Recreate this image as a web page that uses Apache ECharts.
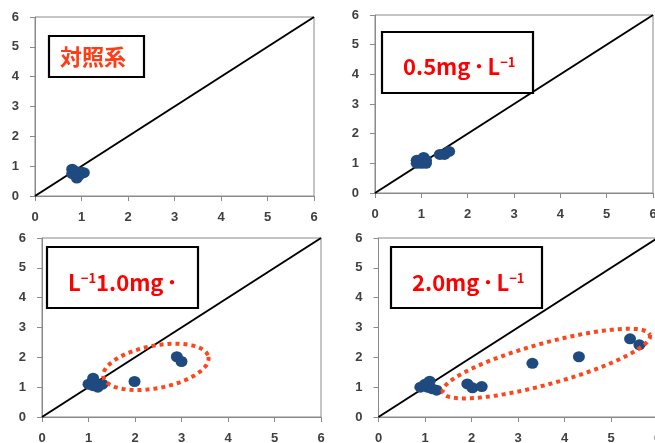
<!DOCTYPE html>
<html>
<head>
<meta charset="utf-8">
<script src="https://cdn.jsdelivr.net/npm/echarts@6/dist/echarts.min.js"></script>
<style>
  html, body { margin: 0; padding: 0; background: #ffffff; }
  #chart { width: 655px; height: 443px; }
</style>
</head>
<body>
<div id="chart"></div>
<script>
// Axis ticks shared by every panel (both axes run 0..6)
const axisTicks = [0, 1, 2, 3, 4, 5, 6];

// Reference 1:1 line
const identityLine = [[0, 0], [6, 6]];

// Measured points for each treatment
const controlPts = [[0.80, 0.90], [0.80, 0.75], [0.88, 0.82], [0.90, 0.60], [0.95, 0.70], [1.00, 0.80], [1.05, 0.78]];
const dose05Pts = [[0.90, 1.00], [0.90, 1.10], [1.00, 1.00], [1.00, 1.10], [1.05, 1.20], [1.10, 1.00], [1.10, 1.10], [1.40, 1.30], [1.50, 1.30], [1.60, 1.40]];
const dose10Pts = [[1.00, 1.10], [1.10, 1.30], [1.10, 1.05], [1.15, 1.10], [1.20, 1.00], [1.30, 1.10], [1.99, 1.19], [2.90, 2.02], [3.00, 1.86]];
const dose20Pts = [[0.90, 1.00], [1.00, 1.10], [1.05, 1.00], [1.10, 1.20], [1.15, 0.95], [1.25, 0.90], [1.91, 1.11], [2.02, 0.98], [2.22, 1.02], [3.31, 1.80], [4.31, 2.02], [5.41, 2.62], [5.61, 2.42]];

// Panel captions (rich text: b = main, d = middle dot, s = superscript)
const panelTitles = [
  '{c|対照系}',
  '{b|0.5mg}{d|・}{b|L}{s|−1}',
  '{b|L}{s|−1}{b|1.0mg}{d|・}',
  '{b|2.0mg}{d|・}{b|L}{s|−1}'
];

// Dotted rings that highlight the off-diagonal groups (centre, major half-axis, minor half-axis; data units)
const ring10Center = [2.45, 1.68];
const ring10Major = [1.13, 0.336];
const ring10Minor = [0.085, -0.70];
const ring20Center = [3.61, 1.79];
const ring20Major = [2.23, 0.96];
const ring20Minor = [0.117, -0.663];

function ringPath(c, u, v) {
  const pts = [];
  const n = 160;
  for (let i = 0; i <= n; i++) {
    const t = (i / n) * Math.PI * 2;
    pts.push([c[0] + u[0] * Math.cos(t) + v[0] * Math.sin(t),
              c[1] + u[1] * Math.cos(t) + v[1] * Math.sin(t)]);
  }
  return pts;
}

const gridBoxes = [
  { left: 35, top: 17, width: 279, height: 179 },
  { left: 375, top: 15, width: 278, height: 178 },
  { left: 42, top: 238, width: 279, height: 179 },
  { left: 378.5, top: 238, width: 279, height: 179 }
];

const axisGrey = '#8a8a8a';
const labelFont = { color: '#404040', fontSize: 13, fontWeight: 'bold', fontFamily: 'Liberation Sans, Arial, sans-serif' };

function makeAxis(i, isX) {
  return {
    type: 'value',
    gridIndex: i,
    min: axisTicks[0],
    max: axisTicks[axisTicks.length - 1],
    interval: 1,
    axisLine: { show: true, onZero: false, lineStyle: { color: axisGrey, width: 1 } },
    axisTick: { show: true, length: 5, lineStyle: { color: axisGrey, width: 1 } },
    splitLine: { show: false },
    axisLabel: Object.assign({ margin: isX ? 15 : 16, formatter: v => String(v) }, labelFont)
  };
}

const pointSets = [controlPts, dose05Pts, dose10Pts, dose20Pts];
const series = [];
for (let i = 0; i < 4; i++) {
  series.push({
    type: 'line', xAxisIndex: i, yAxisIndex: i, data: identityLine,
    symbol: 'none', silent: true, z: 2,
    lineStyle: { color: '#000000', width: 2 }
  });
  series.push({
    type: 'scatter', xAxisIndex: i, yAxisIndex: i, data: pointSets[i],
    symbol: 'circle', symbolSize: [12, 11], z: 3,
    itemStyle: { color: '#1f4a80', opacity: 1 }
  });
}
const ringStyle = { color: '#ff4519', width: 4, type: [4, 4], cap: 'butt' };
series.push({
  type: 'line', xAxisIndex: 2, yAxisIndex: 2, data: ringPath(ring10Center, ring10Major, ring10Minor),
  symbol: 'none', silent: true, clip: false, z: 4, lineStyle: ringStyle
});
series.push({
  type: 'line', xAxisIndex: 3, yAxisIndex: 3, data: ringPath(ring20Center, ring20Major, ring20Minor),
  symbol: 'none', silent: true, clip: false, z: 4, lineStyle: ringStyle
});

// Caption boxes
const boxes = [
  { x: 49, y: 36, w: 95, h: 41, tx: 60, ty: 57 },
  { x: 382, y: 32, w: 151, h: 61, tx: 403, ty: 67 },
  { x: 47, y: 247, w: 151, h: 61, tx: 68, ty: 283 },
  { x: 391, y: 247, w: 151, h: 61, tx: 412, ty: 283 }
];
const capFont = 'Noto Sans CJK JP, sans-serif';
const graphic = [];
boxes.forEach((b, i) => {
  graphic.push({
    type: 'rect', z: 100,
    shape: { x: b.x, y: b.y, width: b.w, height: b.h },
    style: { fill: '#ffffff', stroke: '#000000', lineWidth: 2.2 }
  });
  graphic.push({
    type: 'text', z: 101, x: b.tx, y: b.ty,
    style: {
      text: panelTitles[i],
      align: 'left', verticalAlign: 'middle',
      rich: {
        c: { fontSize: 22, fontWeight: 'bold', fontFamily: capFont, fill: '#ff3c14' },
        b: { fontSize: 22, fontWeight: 'bold', fontFamily: capFont, fill: '#ff0000' },
        d: { fontSize: 17, fontWeight: 'bold', fontFamily: capFont, fill: '#ff0000' },
        s: { fontSize: 13, fontWeight: 'bold', fontFamily: capFont, fill: '#ff0000', verticalAlign: 'top' }
      }
    }
  });
});

const chart = echarts.init(document.getElementById('chart'), null, { renderer: 'canvas' });
chart.setOption({
  animation: false,
  backgroundColor: '#ffffff',
  grid: gridBoxes.map(g => Object.assign({
    show: true, borderColor: axisGrey, borderWidth: 1, backgroundColor: '#ffffff',
    containLabel: false, outerBoundsMode: 'none'
  }, g)),
  xAxis: [0, 1, 2, 3].map(i => makeAxis(i, true)),
  yAxis: [0, 1, 2, 3].map(i => makeAxis(i, false)),
  series: series,
  graphic: graphic
});
</script>
</body>
</html>
